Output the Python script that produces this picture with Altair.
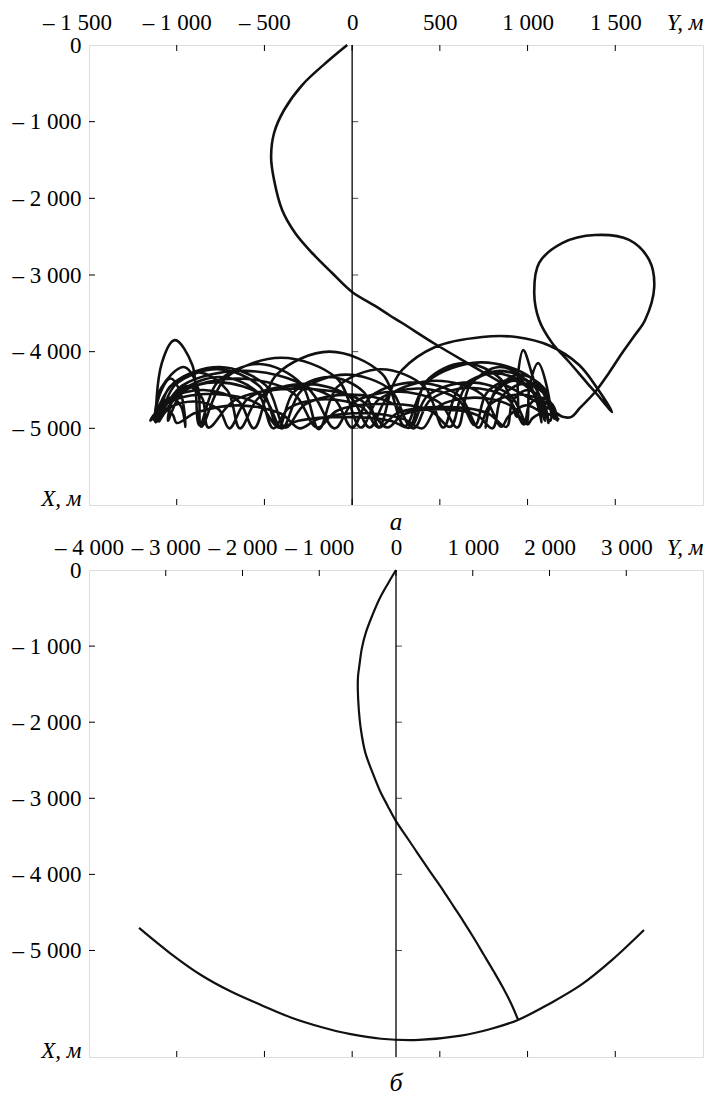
import altair as alt
import pandas as pd

FONT = "Liberation Serif"

# ---------------- panel а : trajectory (Y horizontal, X vertical, metres) ----------------
a_desc_y = [-28, -131, -285, -388, -445, -462, -445, -399, -325, -228, -114, 0, 131, 211, 285,
            473, 667, 855, 1009, 1157, 1200, 1250, 1300]
a_desc_x = [0, -196, -522, -848, -1148, -1461, -1761, -2152, -2452, -2713, -2974, -3222, -3404, -3522, -3626,
            -3900, -4161, -4409, -4604, -4787, -4850, -4850, -4730]

a_loop_y = [1385, 1460, 1539, 1610, 1670, 1722, 1693, 1579, 1385, 1197, 1066, 1038, 1066, 1140, 1237, 1340,
            1385, 1482]
a_loop_x = [-4526, -4290, -4017, -3790, -3587, -3156, -2804, -2543, -2478, -2583, -2843, -3235, -3587, -3887,
            -4135, -4409, -4526, -4787]

a_arc_y = [1396, 1294, 1123, 935, 741, 473, 285, 228, 154]
a_arc_x = [-4474, -4174, -3920, -3809, -3809, -3939, -4239, -4461, -4982]

a_bundle_y = [68, -133, -334, -420, -524, -765, -1007, -1110, -1085, -1010, -910, -870,
              -768, -530, -292, -190, -84, 165, 413, 520, 607, 810, 1013, 1100,
              1030, 975, 945, 940, 848, 635, 421, 330, 220, -35, -290, -400,
              -508, -760, -1012, -1120, -1090, -960, -880, -860, -723, -405, -86, 50,
              148, 375, 603, 700, 769, 930, 1091, 1160, 1031, 730, 429, 300,
              171, -130, -431, -560, -646, -845, -1045, -1130, -1017, -755, -492, -380,
              -270, -15, 240, 350, 445, 665, 886, 980, 1009, 1075, 1142, 1170,
              1102, 945, 787, 720, 612, 360, 108, 0, -105, -350, -595, -700,
              -760, -900, -1040, -1100, -965, -650, -335, -200, -86, 180, 446, 560,
              644, 840, 1036, 1120, 1084, 1000, 916, 880, 770, 515, 260, 150,
              60, -150, -360, -450, -540, -750, -960, -1050, -1015, -935, -854, -820,
              -667, -310, 47, 200, 290, 500, 710, 800, 853, 975, 1098, 1150,
              1091, 955, 818, 760, 808, 920, 1032, 1080, 1008, 840, 672, 600,
              495, 250, 5, -100, -253, -610, -967, -1120, -1095, -1035, -975, -950,
              -974, -1030, -1086, -1110, -1040, -875, -710, -640, -529, -270, -11, 100,
              213, 475, 738, 850, 892, 990, 1088, 1130, 1109, 1060, 1011, 990,
              901, 695, 488, 400, 295, 50, -195, -300, -405, -650, -895, -1000,
              -1023, -1075, -1128, -1150, -1040, -785, -530, -420, -307, -45, 218, 330,
              430, 665, 900, 1000, 1027, 1090, 1153, 1180]
a_bundle_x = [-4530, -4330, -4530, -4990, -4460, -4230, -4430, -4900, -4150, -3850, -4180, -4960,
              -4400, -4160, -4415, -5010, -4460, -4230, -4460, -4990, -4490, -4280, -4470, -4900,
              -4330, -3980, -4300, -4850, -4360, -4150, -4390, -4960, -4500, -4300, -4510, -5000,
              -4580, -4400, -4560, -4920, -4480, -4200, -4460, -4980, -4350, -4080, -4350, -4990,
              -4630, -4480, -4620, -4960, -4530, -4350, -4510, -4880, -4360, -4140, -4390, -4970,
              -4290, -4000, -4300, -5000, -4650, -4500, -4620, -4890, -4410, -4200, -4440, -4990,
              -4690, -4560, -4690, -5000, -4630, -4470, -4610, -4950, -4700, -4600, -4690, -4900,
              -4660, -4560, -4690, -4990, -4580, -4400, -4580, -4990, -4610, -4450, -4615, -5000,
              -4755, -4650, -4730, -4910, -4520, -4350, -4540, -4990, -4770, -4680, -4770, -4980,
              -4470, -4250, -4450, -4930, -4630, -4500, -4640, -4980, -4800, -4720, -4800, -4990,
              -4730, -4620, -4735, -5000, -4530, -4330, -4500, -4900, -4585, -4450, -4610, -4990,
              -4630, -4480, -4630, -4990, -4820, -4750, -4825, -5000, -4590, -4420, -4555, -4870,
              -4470, -4300, -4505, -4990, -4560, -4380, -4540, -4920, -4415, -4200, -4440, -4990,
              -4660, -4520, -4670, -5000, -4475, -4250, -4440, -4890, -4550, -4350, -4560, -4980,
              -4720, -4600, -4700, -4900, -4460, -4270, -4510, -5000, -4595, -4420, -4590, -4990,
              -4565, -4380, -4555, -4980, -4840, -4700, -4810, -4900, -4450, -4150, -4450, -4940,
              -4700, -4600, -4720, -5000, -4880, -4800, -4880, -5000, -4810, -4700, -4800, -4930,
              -4820, -4750, -4820, -4900, -4655, -4550, -4690, -4990, -4900, -4850, -4900, -4990,
              -4575, -4400, -4565, -4950, -4870, -4800, -4850, -4890]

# ---------------- panel б ----------------
b_desc_y = [0, -100, -216, -310, -390, -445, -476, -495, -498, -485, -455, -400, -303, -210, -108, 0,
            120, 240, 360, 490, 620, 750, 880, 1010, 1140, 1270, 1400, 1510, 1590]
b_desc_x = [0, -170, -381, -600, -814, -1030, -1247, -1400, -1550, -1830, -2113, -2400, -2670, -2900, -3100, -3300,
            -3480, -3660, -3840, -4030, -4220, -4420, -4620, -4830, -5050, -5270, -5500, -5720, -5910]

b_arc_y = [-3348, -2950, -2541, -2150, -1759, -1370, -977, -590, -195, 300, 847, 1220, 1590, 2000, 2410, 2820, 3231]
b_arc_x = [-4704, -5030, -5322, -5540, -5716, -5880, -6005, -6100, -6160, -6175, -6120, -6035, -5913, -5700, -5453, -5120, -4731]

# ---------------- axes ----------------
a_top_values = [-1500, -1000, -500, 0, 500, 1000, 1500, 2000]
a_tick_values = [-1000, -500, 0, 500, 1000, 1500]
a_left_values = [0, -1000, -2000, -3000, -4000, -5000, -6000]
b_top_values = [-4000, -3000, -2000, -1000, 0, 1000, 2000, 3000, 4000]
b_top_ticks = [-3000, -2000, -1000, 0, 1000, 2000, 3000]
b_bottom_ticks = [-2857, -1714, -571, 571, 1714, 2857]
b_left_values = [0, -1000, -2000, -3000, -4000, -5000, -6400]
inner_ticks = [-1000, -2000, -3000, -4000, -5000]

W = 614
HA = 460
HB = 487

LBL = "(datum.value < 0 ? '\u2013 ' : '') + replace(format(abs(datum.value), ','), ',', ' ')"


def panel(df_lines, xdom, ydom, h, top_values, top_ticks, bottom_ticks, left_values, caption,
          cap_dy, cap_size, first_shift, lw, top_pad):
    xmin, xmax = xdom
    ymin = ydom[0]
    xs = alt.Scale(domain=xdom, nice=False, zero=False)
    ys = alt.Scale(domain=ydom, nice=False, zero=False)
    xaxis = alt.Axis(orient="top", values=top_values, title=None, grid=False, ticks=False, tickSize=0,
                     domain=False, labelFont=FONT, labelFontSize=23, labelColor="black", labelPadding=top_pad,
                     labelOverlap=False,
                     labelExpr=f"datum.value == {xmax} ? 'Y, м' : {LBL}",
                     labelAlign={"condition": {"test": f"datum.value == {xmax}", "value": "right"},
                                 "value": "center"},
                     labelFontStyle={"condition": {"test": f"datum.value == {xmax}", "value": "italic"},
                                     "value": "normal"},
                     labelOffset={"condition": {"test": f"datum.value == {xmin}", "value": first_shift},
                                  "value": 0})
    yaxis = alt.Axis(orient="left", values=left_values, title=None, grid=False, ticks=False, tickSize=0,
                     domain=False, labelFont=FONT, labelFontSize=23, labelColor="black", labelPadding=8,
                     labelOverlap=False,
                     labelExpr=f"datum.value == {ymin} ? 'X, м' : {LBL}",
                     labelBaseline={"condition": {"test": f"datum.value == {ymin}", "value": "alphabetic"},
                                    "value": "middle"},
                     labelFontStyle={"condition": {"test": f"datum.value == {ymin}", "value": "italic"},
                                     "value": "normal"})

    def X(field):
        return alt.X(field, scale=xs, axis=xaxis)

    def Y(field):
        return alt.Y(field, scale=ys, axis=yaxis)

    lines = alt.Chart(df_lines).mark_line(color="#111111", strokeWidth=lw, interpolate="catmull-rom").encode(
        x=X("Y:Q"),
        y=Y("X:Q"),
        detail="s:N",
        order="i:Q",
    )
    center = alt.Chart(pd.DataFrame({"Y": [0]})).mark_rule(color="black", strokeWidth=1.3).encode(
        x=X("Y:Q"))
    top_t = alt.Chart(pd.DataFrame({"Y": top_ticks})).mark_rule(color="black", strokeWidth=1).encode(
        x=X("Y:Q"), y=alt.value(0), y2=alt.value(6))
    bot_t = alt.Chart(pd.DataFrame({"Y": bottom_ticks})).mark_rule(color="black", strokeWidth=1).encode(
        x=X("Y:Q"), y=alt.value(h), y2=alt.value(h - 6))
    left_t = alt.Chart(pd.DataFrame({"X": inner_ticks})).mark_rule(color="black", strokeWidth=1).encode(
        y=Y("X:Q"), x=alt.value(0), x2=alt.value(6))
    mid_t = alt.Chart(pd.DataFrame({"Y": [0] * len(inner_ticks), "X": inner_ticks})).mark_tick(
        orient="horizontal", size=6, thickness=1, xOffset=3, color="black").encode(
        x=X("Y:Q"), y=Y("X:Q"))
    cap = alt.Chart(pd.DataFrame({"t": [caption]})).mark_text(
        font=FONT, fontStyle="italic", fontSize=cap_size, color="black", baseline="middle", align="center").encode(
        text="t:N", x=alt.value(W / 2), y=alt.value(h + cap_dy))
    return alt.layer(lines, center, top_t, bot_t, left_t, mid_t, cap).properties(width=W, height=h)


def frame(parts):
    ys, xs, ss = [], [], []
    for s, (py, px) in enumerate(parts):
        ys += py
        xs += px
        ss += [s] * len(py)
    return pd.DataFrame({"Y": ys, "X": xs, "s": ss, "i": list(range(len(ys)))})


df_a = frame([(a_desc_y + a_loop_y + a_arc_y + a_bundle_y, a_desc_x + a_loop_x + a_arc_x + a_bundle_x)])
df_b = frame([(b_desc_y, b_desc_x), (b_arc_y, b_arc_x)])

pa = panel(df_a, [-1500, 2000], [-6000, 0], HA, a_top_values, a_tick_values, a_tick_values, a_left_values, "а",
           17, 25, -12, 2.6, 11)
pb = panel(df_b, [-4000, 4000], [-6400, 0], HB, b_top_values, b_top_ticks, b_bottom_ticks, b_left_values, "б",
           26, 26, 0, 2.2, 11)

chart = alt.vconcat(pa, pb, spacing=65, bounds="flush").properties(
    padding={"left": 11, "top": 10, "right": 0, "bottom": 0}
).configure_view(stroke="black", strokeWidth=1.5).configure(background="white")

chart.save("out.html", embed_options={"renderer": "svg", "actions": False})
